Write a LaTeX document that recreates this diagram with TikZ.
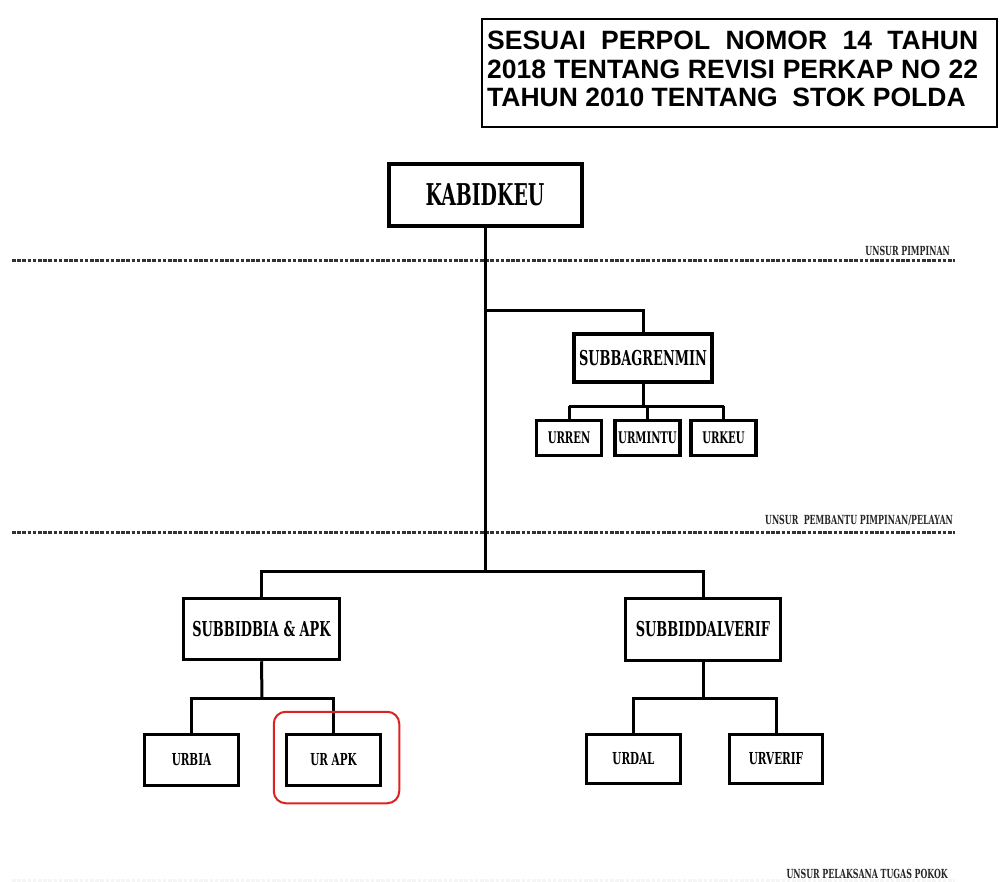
\documentclass[tikz,border=0pt]{standalone}
\usepackage{fontspec}
\usetikzlibrary{positioning}
\setmainfont{Liberation Sans}
\newfontfamily\orgfont[FakeStretch=0.63]{DejaVu Serif Bold}
\newfontfamily\headfont{Liberation Sans Bold}
\definecolor{hlred}{HTML}{DD2222}
\definecolor{dashgray}{HTML}{333333}

\tikzset{
  orgbox/.style={draw, line width=3.5pt, fill=white, inner sep=0pt, font=\orgfont\fontsize{20.5}{20.5}\selectfont},
  urbox/.style={orgbox, font=\orgfont\fontsize{16.5}{16.5}\selectfont},
  conn/.style={line width=3pt},
  sepline/.style={line width=3pt, dashgray, dash pattern=on 3.6pt off 1.6pt},
  unsur/.style={font=\orgfont\fontsize{12.5}{12.5}\selectfont, inner sep=0pt, anchor=base east, text=black!85},
  hilite/.style={draw=hlred, line width=2pt, rounded corners=12pt}
}

\begin{document}
\begin{tikzpicture}[x=1pt,y=-1pt]
\useasboundingbox (0,0) rectangle (1000,882);

% Title box
\node[draw, line width=2.5pt, minimum width=515pt, minimum height=108pt, inner sep=0pt] (title) at (739.5,73) {};
\node[anchor=north west, inner sep=0pt, text width=491pt, align=justify, font=\headfont\fontsize{26.5}{28.5}\selectfont] (titletxt) at (487,31)
  {SESUAI PERPOL NOMOR 14 TAHUN\linebreak 2018 TENTANG REVISI PERKAP NO 22\linebreak TAHUN 2010 TENTANG\ \ STOK POLDA};

% Separator lines
\draw[sepline] (12,261) -- (955,261);
\draw[sepline] (12,532) -- (955,532);
\draw[sepline, black!4] (12,880) -- (955,880);
\node[unsur] (lpimpinan) at (950,256) {UNSUR PIMPINAN};
\node[unsur] (lpembantu) at (953,524) {UNSUR\ \ PEMBANTU PIMPINAN/PELAYAN};
\node[unsur] (lpelaksana) at (948,878) {UNSUR PELAKSANA TUGAS POKOK};

% Boxes
\node[orgbox, line width=4pt, minimum width=193pt, minimum height=62pt, font=\orgfont\fontsize{30}{30}\selectfont] (kabid) at (485,195) {KABIDKEU};
\node[orgbox, minimum width=138pt, minimum height=48pt] (renmin) at (643,358) {SUBBAGRENMIN};
\node[urbox, minimum width=65pt, minimum height=35pt, font=\orgfont\fontsize{16}{16}\selectfont] (urren) at (569,438) {URREN};
\node[urbox, minimum width=65pt, minimum height=35pt, font=\orgfont\fontsize{16}{16}\selectfont] (urmintu) at (647.5,438) {URMINTU};
\node[urbox, minimum width=65pt, minimum height=35pt, font=\orgfont\fontsize{16}{16}\selectfont] (urkeu) at (723.5,438) {URKEU};

\node[orgbox, minimum width=156pt, minimum height=61pt] (bia) at (261.5,629) {SUBBIDBIA \& APK};
\node[orgbox, minimum width=155pt, minimum height=62pt] (dal) at (703,629.5) {SUBBIDDALVERIF};
\node[urbox, minimum width=94pt, minimum height=51pt] (urbia) at (191.5,760) {URBIA};
\node[urbox, minimum width=94pt, minimum height=51pt] (urapk) at (333.5,760) {UR APK};
\node[urbox, minimum width=94pt, minimum height=49pt] (urdal) at (633.5,759) {URDAL};
\node[urbox, minimum width=93pt, minimum height=49pt] (urverif) at (776,759) {URVERIF};

% Connectors
\coordinate (j1) at (485,310);
\coordinate (j2) at (485,571);
\coordinate (j3) at (643,406);
\coordinate (j4) at (262,698);
\coordinate (j5) at (703,698);
\draw[conn] (kabid.south) -- (j2);
\draw[conn] (j1) -| (renmin.north);
\draw[conn] (renmin.south) -- (j3);
\draw[conn] (urren.north |- j3) -- (urkeu.north |- j3);
\foreach \n in {urren,urmintu,urkeu}
  \draw[conn] (\n.north |- j3) -- (\n.north);
\draw[conn] (bia.north) -- (bia.north |- j2) -- (dal.north |- j2) -- (dal.north);
\draw[conn] (bia.south) -- (j4);
\draw[conn] (urbia.north) |- (j4) -| (urapk.north);
\draw[conn] (dal.south) -- (j5);
\draw[conn] (urdal.north) |- (j5) -| (urverif.north);

% Highlight
\draw[hilite] ([shift={(-11,-21)}]urapk.north west) rectangle ([shift={(17,16)}]urapk.south east);

\end{tikzpicture}
\end{document}
